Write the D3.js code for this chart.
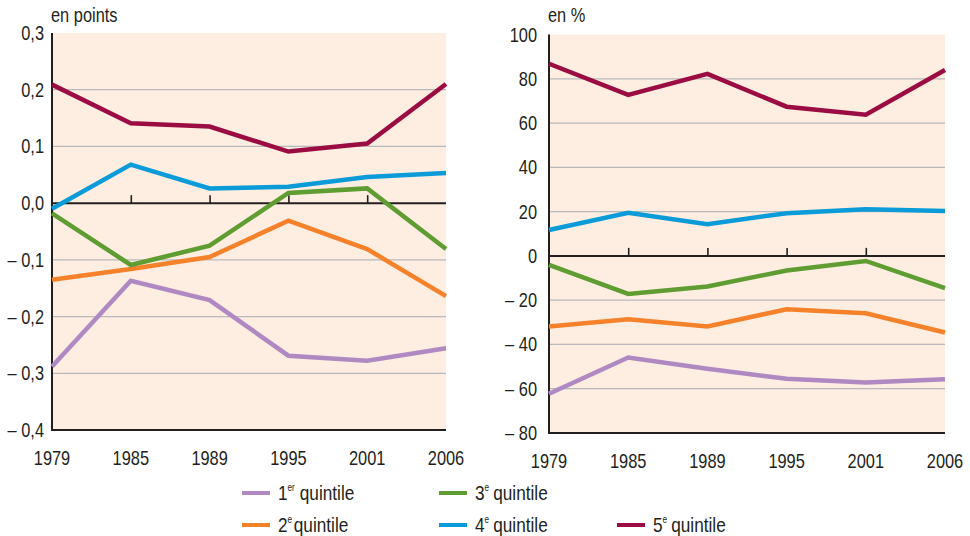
<!DOCTYPE html>
<html>
<head>
<meta charset="utf-8">
<script src="https://cdn.jsdelivr.net/npm/d3@7"></script>
<style>
  body { margin: 0; background: #fff; }
  svg text { font-family: "Liberation Sans", Arial, sans-serif; fill: #231f20; }
</style>
</head>
<body>
<div id="chart"></div>
<script>
//// data

const years = ['1979', '1985', '1989', '1995', '2001', '2006'];
const quintiles = ['q1', 'q2', 'q3', 'q4', 'q5'];

// left panel, en points
const pointsQ1 = [-0.288, -0.137, -0.171, -0.269, -0.278, -0.256];
const pointsQ2 = [-0.135, -0.116, -0.095, -0.031, -0.081, -0.164];
const pointsQ3 = [-0.018, -0.109, -0.075, 0.018, 0.026, -0.081];
const pointsQ4 = [-0.01, 0.068, 0.026, 0.029, 0.046, 0.053];
const pointsQ5 = [0.209, 0.141, 0.135, 0.091, 0.105, 0.21];

// right panel, en %
const pctQ1 = [-62.3, -45.9, -51, -55.5, -57.2, -55.7];
const pctQ2 = [-31.9, -28.6, -31.9, -24.1, -25.9, -34.6];
const pctQ3 = [-4.1, -17.2, -13.8, -6.6, -2.3, -14.6];
const pctQ4 = [11.7, 19.5, 14.3, 19.3, 21.1, 20.3];
const pctQ5 = [86.8, 72.7, 82.2, 67.4, 63.8, 84];

const leftTicks = [0.3, 0.2, 0.1, 0.0, -0.1, -0.2, -0.3, -0.4];
const rightTicks = [100, 80, 60, 40, 20, 0, -20, -40, -60, -80];

const colors = {q1: '#b088c2', q2: '#f5822a', q3: '#5f9c32', q4: '#0a9bd8', q5: '#9b0d42'};

// the original uses a condensed face; squeeze Liberation Sans horizontally
const squeeze = 0.82;


const svg = d3.select('#chart').append('svg')
    .attr('width', 970)
    .attr('height', 536);

function fmtPoints(v){
    const s = Math.abs(v).toFixed(1).replace('.', ',');
    return v < 0 ? '\u2013 ' + s : s;
}
function fmtPct(v){
    return v < 0 ? '\u2013 ' + Math.abs(v) : String(v);
}

// x,y = anchor point at baseline
function narrowText(parent, x, y, str, size, anchor){
    return parent.append('text')
        .attr('transform', `translate(${x},${y}) scale(${squeeze},1)`)
        .attr('text-anchor', anchor || 'start')
        .style('font-size', size + 'px')
        .text(str);
}

// one panel = background, grid, axes, lines
function drawPanel(opts){
    const x = d3.scalePoint().domain(years).range([opts.left, opts.right]);
    const y = d3.scaleLinear().domain(opts.domain).range([opts.bottom, opts.top]);

    const g = svg.append('g');

    g.append('rect')
        .attr('x', opts.left)
        .attr('y', opts.top)
        .attr('width', opts.right - opts.left)
        .attr('height', opts.bottom - opts.top)
        .style('fill', '#fdeee1');

    // grid
    g.selectAll('.grid')
        .data(opts.ticks.filter(t => t != 0 && t != opts.domain[0] && t != opts.domain[1]))
        .enter().append('line')
        .attr('class', 'grid')
        .attr('x1', opts.left)
        .attr('x2', opts.right)
        .attr('y1', d => y(d))
        .attr('y2', d => y(d))
        .style('stroke', '#b9b9bb')
        .style('stroke-width', 1.3);

    // y tick labels
    opts.ticks.forEach(t => {
        narrowText(g, opts.left - opts.labelGap, y(t) + 7, opts.fmt(t), 20, 'end');
    });

    // year labels
    years.forEach(yr => {
        narrowText(g, x(yr), opts.bottom + 35, yr, 20, 'middle');
    });

    // zero line with little ticks going up
    const axis0 = d3.axisTop(x).tickSize(8).tickFormat('');
    const zeroAxis = g.append('g')
        .attr('transform', `translate(0,${y(0)})`)
        .call(axis0);
    zeroAxis.select('.domain').remove();
    zeroAxis.selectAll('.tick')
        .filter(d => d == years[0] || d == years[years.length - 1])
        .remove();
    zeroAxis.selectAll('line').style('stroke', '#231f20').style('stroke-width', 1.6);
    g.append('line')
        .attr('x1', opts.left).attr('x2', opts.right)
        .attr('y1', y(0)).attr('y2', y(0))
        .style('stroke', '#231f20').style('stroke-width', 2);

    // bottom axis line
    g.append('line')
        .attr('x1', opts.left).attr('x2', opts.right)
        .attr('y1', opts.bottom).attr('y2', opts.bottom)
        .style('stroke', '#231f20').style('stroke-width', 2);

    // left axis line
    g.append('line')
        .attr('x1', opts.left).attr('x2', opts.left)
        .attr('y1', opts.top).attr('y2', opts.bottom + 1)
        .style('stroke', '#231f20').style('stroke-width', 2);

    narrowText(g, opts.left - 1, 22, opts.unit, 20, 'start');

    // series
    const line = d3.line()
        .x((d, i) => x(years[i]))
        .y(d => y(d));

    g.selectAll('.serie')
        .data(quintiles.map((q, i) => ({key: q, values: opts.series[i]})))
        .enter().append('path')
        .attr('class', 'serie')
        .attr('d', d => line(d.values))
        .style('fill', 'none')
        .style('stroke', d => colors[d.key])
        .style('stroke-width', 4.5)
        .style('stroke-linejoin', 'miter');
}

drawPanel({
    left: 52, right: 446, top: 33, bottom: 430,
    domain: [-0.4, 0.3],
    ticks: leftTicks,
    fmt: fmtPoints,
    labelGap: 8,
    unit: 'en points',
    series: [pointsQ1, pointsQ2, pointsQ3, pointsQ4, pointsQ5]
});

drawPanel({
    left: 549, right: 945, top: 34.5, bottom: 433,
    domain: [-80, 100],
    ticks: rightTicks,
    fmt: fmtPct,
    labelGap: 12,
    unit: 'en %',
    series: [pctQ1, pctQ2, pctQ3, pctQ4, pctQ5]
});


//// legend

const legendItems = [
    {key: 'q1', num: '1', sup: 'er', x: 242, y: 493},
    {key: 'q3', num: '3', sup: 'e', x: 439, y: 493},
    {key: 'q2', num: '2', sup: 'e', x: 242, y: 525},
    {key: 'q4', num: '4', sup: 'e', x: 439, y: 525},
    {key: 'q5', num: '5', sup: 'e', x: 617, y: 525}
];

const leg = svg.selectAll('.legend')
    .data(legendItems)
    .enter().append('g')
    .attr('class', 'legend')
    .attr('transform', d => `translate(${d.x},${d.y})`);

leg.append('line')
    .attr('x1', 0).attr('x2', 28)
    .style('stroke', d => colors[d.key])
    .style('stroke-width', 4);

const legText = leg.append('text')
    .attr('transform', `translate(36,6.5) scale(${squeeze},1)`)
    .style('font-size', '21px');
legText.append('tspan').text(d => d.num);
legText.append('tspan')
    .attr('dy', -9)
    .style('font-size', '10px')
    .text(d => d.sup);
legText.append('tspan')
    .attr('dy', 9)
    .attr('dx', d => d.key == 'q1' ? 6 : d.key == 'q2' ? 2 : 5)
    .text('quintile');
</script>
</body>
</html>
